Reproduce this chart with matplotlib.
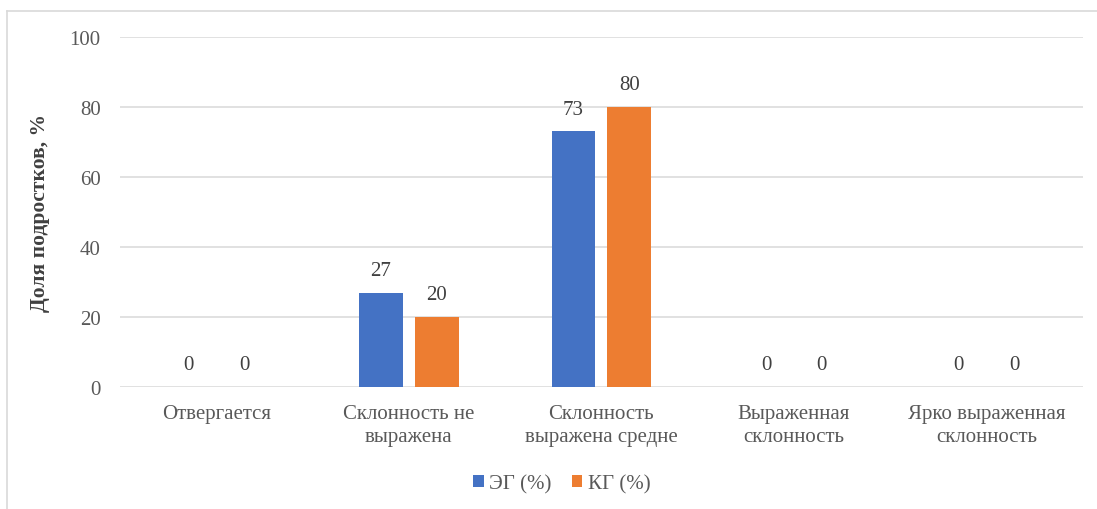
import matplotlib.pyplot as plt
import numpy as np

plt.rcParams['font.family'] = ['Liberation Serif', 'DejaVu Serif']

# categories and values (percent)
categories = ["Отвергается", "Склонность не\nвыражена", "Склонность\nвыражена средне",
              "Выраженная\nсклонность", "Ярко выраженная\nсклонность"]
eg_values = [0, 27, 73, 0, 0]
kg_values = [0, 20, 80, 0, 0]
series_names = ["ЭГ (%)", "КГ (%)"]
y_ticks = [0, 20, 40, 60, 80, 100]

blue = "#4472C4"
orange = "#ED7D31"
text_gray = "#595959"

fig = plt.figure(figsize=(10.97, 5.10), dpi=100)
ax = fig.add_axes([0.1094, 0.2392, 0.8776, 0.6863])

x = np.arange(len(categories))
w = 0.228
off = 0.145
b1 = ax.bar(x - off, eg_values, w, color=blue, label=series_names[0], zorder=3)
b2 = ax.bar(x + off, kg_values, w, color=orange, label=series_names[1], zorder=3)

# data labels
for bars, vals in ((b1, eg_values), (b2, kg_values)):
    for r, v in zip(bars, vals):
        ax.annotate(str(v), (r.get_x() + r.get_width() / 2, v), xytext=(0, 16),
                    textcoords="offset points", ha="center", va="center",
                    fontsize=15, color="#404040")

ax.set_xlim(-0.5, len(categories) - 0.5)
ax.set_ylim(0, 100)
ax.set_yticks(y_ticks)
ax.yaxis.grid(True, color="#D9D9D9", linewidth=1.1, zorder=0)
ax.set_axisbelow(True)
for s in ax.spines.values():
    s.set_visible(False)
ax.tick_params(axis="both", length=0, colors=text_gray, labelsize=15)
ax.tick_params(axis="y", pad=14)
ax.tick_params(axis="x", pad=12)
ax.set_xticks(x)
ax.set_xticklabels(categories, linespacing=1.3)

ax.set_ylabel("Доля подростков, %", fontsize=15.5, fontweight="bold", color="#404040")
ax.yaxis.set_label_coords(-0.0727, 0.5)

fig.legend(handles=[b1, b2], loc="center", bbox_to_anchor=(0.512, 0.05), ncol=2,
           frameon=False, fontsize=15, handlelength=0.5, handleheight=0.5,
           handletextpad=0.25, columnspacing=1.0, labelcolor=text_gray)

# light chart-area frame
fig.add_artist(plt.Line2D([7 / 1097, 7 / 1097], [0.0, 1 - 12 / 510], color="#D9D9D9",
                          linewidth=1.2, transform=fig.transFigure))
fig.add_artist(plt.Line2D([7 / 1097, 1.0], [1 - 12 / 510, 1 - 12 / 510], color="#D9D9D9",
                          linewidth=1.2, transform=fig.transFigure))

fig.savefig("out.png", dpi=100)
